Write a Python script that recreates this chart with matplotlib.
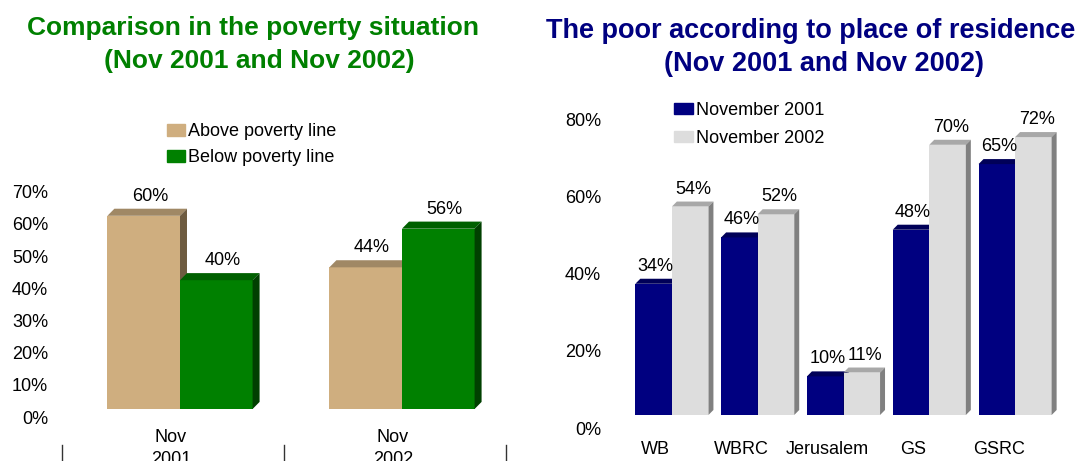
import matplotlib.pyplot as plt
import matplotlib.transforms as mtransforms
from matplotlib.patches import Polygon, Patch

plt.rcParams['font.family'] = ['Liberation Sans', 'DejaVu Sans']

# poverty split, left chart
periods = ['Nov\n2001', 'Nov\n2002']
above_line = [60, 44]
below_line = [40, 56]

# poor by place of residence, right chart
places = ['WB', 'WBRC', 'Jerusalem', 'GS', 'GSRC']
poor_2001 = [34, 46, 10, 48, 65]
poor_2002 = [54, 52, 11, 70, 72]

W, H = 1079, 461
fig = plt.figure(figsize=(W / 100, H / 100), dpi=100)


def px_axes(x0, y_top, x1, y_bottom):
    return fig.add_axes([x0 / W, 1 - y_bottom / H, (x1 - x0) / W, (y_bottom - y_top) / H])


def shift(texts, dx, dy):
    # move text by pixels (dy positive = down)
    off = mtransforms.ScaledTranslation(dx / 100, -dy / 100, fig.dpi_scale_trans)
    for t in texts:
        t.set_transform(t.get_transform() + off)


def bar3d(ax, xs, vals, width, colors, dx, dy, lab_dx, lab_dy):
    front, top, side = colors
    ax.bar(xs, vals, width, align='edge', color=front, linewidth=0)
    for x, v in zip(xs, vals):
        ax.add_patch(Polygon([(x, v), (x + dx, v + dy), (x + width + dx, v + dy), (x + width, v)],
                             closed=True, facecolor=top, lw=0))
        ax.add_patch(Polygon([(x + width, 0), (x + width + dx, dy), (x + width + dx, v + dy), (x + width, v)],
                             closed=True, facecolor=side, lw=0))
        ax.annotate(f'{v}%', (x + width / 2, v), xytext=(lab_dx, lab_dy), textcoords='offset points',
                    ha='center', va='bottom', fontsize=13)


def clean(ax):
    for s in ax.spines.values():
        s.set_visible(False)
    ax.tick_params(length=0, labelsize=13)


# ---- left chart ----
tan = ('#CFAE7F', '#A08865', '#6E5B40')
green = ('#008000', '#006000', '#004000')

ax1 = px_axes(69, 409 - 70 * 3.22, 513, 409)
ax1.set_xlim(-0.5, 1.5)
ax1.set_ylim(0, 70)
clean(ax1)
w1 = 0.327
xs = [i for i in range(len(periods))]
bar3d(ax1, [x - w1 for x in xs], above_line, w1, tan, 0.0315, 2.2, 4.5, 8)
bar3d(ax1, xs, below_line, w1, green, 0.0315, 2.2, 4.5, 8)
ax1.set_yticks(range(0, 71, 10))
ax1.set_yticklabels([f'{v}%' for v in range(0, 71, 10)])
ax1.tick_params(axis='y', pad=15)
ax1.set_xticks(xs)
ax1.set_xticklabels(periods, linespacing=1.35)
ax1.tick_params(axis='x', pad=14.5)
shift(ax1.get_yticklabels(), 0, 8)
shift(ax1.get_xticklabels(), -9, 0)
tick_tr = ax1.get_xaxis_transform() + mtransforms.ScaledTranslation(-0.07, 0, fig.dpi_scale_trans)
for b in [-0.5, 0.5, 1.5]:
    ax1.plot([b, b], [-0.16, -0.4], color='#333333', lw=1, transform=tick_tr, clip_on=False)

fig.legend(handles=[Patch(color=tan[0]), Patch(color=green[0])],
           labels=['Above poverty line', 'Below poverty line'],
           loc='upper left', bbox_to_anchor=(167 / W, 1 - 123 / H), frameon=False, fontsize=13,
           handlelength=1.0, handleheight=0.65, handletextpad=0.15, borderpad=0, borderaxespad=0,
           labelspacing=0.5)

fig.text(253 / W, 1 - 28 / H, 'Comparison in the poverty situation', ha='center', va='center',
         fontsize=19, fontweight='bold', color='#008000')
fig.text(259 / W, 1 - 61 / H, '(Nov 2001 and Nov 2002)', ha='center', va='center',
         fontsize=19, fontweight='bold', color='#008000')

# ---- right chart ----
navy = ('#000080', '#000058', '#000050')
grey = ('#DDDDDD', '#A8A8A8', '#808080')

ax2 = px_axes(629, 415 - 80 * 3.86, 1058, 415)
ax2.set_xlim(-0.5, 4.5)
ax2.set_ylim(0, 80)
clean(ax2)
w2 = 0.426
xs = [i for i in range(len(places))]
bar3d(ax2, [x - w2 for x in xs], poor_2001, w2, navy, 0.058, 1.3, 1.5, 6.5)
bar3d(ax2, xs, poor_2002, w2, grey, 0.058, 1.3, 2.5, 6.5)
ax2.set_yticks(range(0, 81, 20))
ax2.set_yticklabels([f'{v}%' for v in range(0, 81, 20)])
ax2.tick_params(axis='y', pad=20)
ax2.set_xticks(xs)
ax2.set_xticklabels(places)
ax2.tick_params(axis='x', pad=19)
shift(ax2.get_yticklabels(), 0, 13)
shift(ax2.get_xticklabels(), -16, 0)

fig.legend(handles=[Patch(color=navy[0]), Patch(color=grey[0])],
           labels=['November 2001', 'November 2002'],
           loc='upper left', bbox_to_anchor=(674 / W, 1 - 102 / H), frameon=False, fontsize=13,
           handlelength=1.05, handleheight=0.6, handletextpad=0.15, borderpad=0, borderaxespad=0,
           labelspacing=0.6)

fig.text(811 / W, 1 - 31 / H, 'The poor according to place of residence', ha='center', va='center',
         fontsize=19.5, fontweight='bold', color='#000080')
fig.text(824 / W, 1 - 64 / H, '(Nov 2001 and Nov 2002)', ha='center', va='center',
         fontsize=19.5, fontweight='bold', color='#000080')

fig.savefig('out.png', dpi=100)
